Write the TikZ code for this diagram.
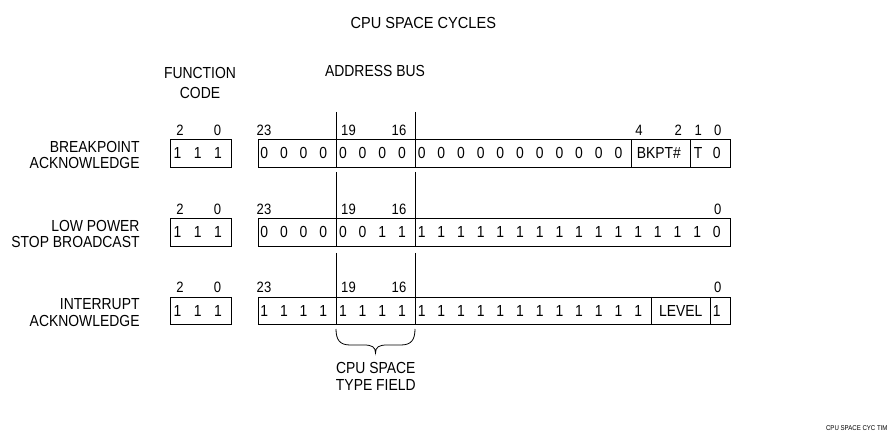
\documentclass[tikz,border=0pt]{standalone}
\usepackage{fontspec}
\setmainfont{Liberation Sans}[FakeStretch=0.87]
\newfontfamily\ttlfont{Liberation Sans}[FakeStretch=0.91]
\begin{document}
\begin{tikzpicture}[x=1pt,y=-1pt,
  line width=0.9pt,
  txt/.style={inner sep=0pt, font=\fontsize{16}{17}\selectfont},
  rowlbl/.style={txt, align=right, anchor=east, font=\fontsize{16}{16.3}\selectfont},
  bitnum/.style={inner sep=0pt, anchor=base, font=\fontsize{15}{15}\selectfont},
  digit/.style={txt, anchor=base},
  regbox/.style={draw, inner sep=0pt, minimum height=27.5pt, anchor=north west},
  fcbox/.style={regbox, minimum width=61pt},
  addrbox/.style={regbox, minimum width=472.3pt}
]
\useasboundingbox (0,0) rectangle (891,435);

% titles
\node[inner sep=0pt, font=\ttlfont\fontsize{16}{17}\selectfont] (title) at (423.3,22.5) {CPU SPACE CYCLES};
\node[txt, align=center, font=\fontsize{16}{20}\selectfont] (fchead) at (200,82.5) {FUNCTION\\CODE};
\node[txt] (abhead) at (375,70.5) {ADDRESS BUS};

% rows: top y values
\foreach \r/\top/\lineA/\lbl in {1/139.5/112/{BREAKPOINT\\ACKNOWLEDGE},
                                 2/218.3/172/{LOW POWER\\STOP BROADCAST},
                                 3/297/253/{INTERRUPT\\ACKNOWLEDGE}} {
  \node[rowlbl] (lbl\r) at (140,\top+15.5) {\lbl};
  \node[fcbox] (fc\r) at (170,\top) {};
  \node[addrbox] (ab\r) at (257.7,\top) {};
  % function code digits and bit numbers
  \foreach \x in {177.5,197.8,218} \node[digit] at (\x,\top+19.3) {1};
  \node[bitnum] (fcb2\r) at (180,\top-4) {2};
  \node[bitnum] (fcb0\r) at (217.5,\top-4) {0};
  % type field dividers with extensions
  \draw (336,\lineA) -- (336,\top+27.5);
  \draw (415,\lineA) -- (415,\top+27.5);
  \node[bitnum] (b23\r) at (264,\top-4) {23};
  \node[bitnum] (b19\r) at (348.5,\top-4) {19};
  \node[bitnum] (b16\r) at (399,\top-4) {16};
}

% helper: x of bit digit
\def\bx#1{257.7+(23-#1)*19.68+6.5}

% Row 1
\foreach \b in {23,...,5} \node[digit] at ({\bx{\b}},139.5+19.3) {0};
\draw (631.6,139.5) -- (631.6,167);
\draw (690.7,139.5) -- (690.7,167);
\node[digit, anchor=base west] (bkpt) at (636.3,139.5+19.3) {BKPT\#};
\node[digit] (tbit) at ({\bx{1}+1},139.5+19.3) {T};
\node[digit] at ({\bx{0}},139.5+19.3) {0};
\node[bitnum] at (639,135.5) {4};
\node[bitnum] at (678.3,135.5) {2};
\node[bitnum] at (698.3,135.5) {1};
\node[bitnum] at (717.7,135.5) {0};

% Row 2
\foreach \b/\v in {23/0,22/0,21/0,20/0,19/0,18/0,17/1,16/1,15/1,14/1,13/1,12/1,11/1,10/1,9/1,8/1,7/1,6/1,5/1,4/1,3/1,2/1,1/1,0/0}
  \node[digit] at ({\bx{\b}},218.3+19.3) {\v};
\node[bitnum] at (717.7,214.3) {0};

% Row 3
\foreach \b in {23,...,4} \node[digit] at ({\bx{\b}},297+19.3) {1};
\draw (651.3,297) -- (651.3,324.5);
\draw (710.3,297) -- (710.3,324.5);
\node[digit] (level) at (680.8,297+19.3) {LEVEL};
\node[digit] at ({\bx{0}},297+19.3) {1};
\node[bitnum] at (717.7,293) {0};

% brace
\coordinate (brL) at (336,329);
\coordinate (brR) at (415,329);
\coordinate (brT) at (375.5,353);
\draw[line width=0.8pt] (brL) .. controls (336,340) and (340,345) .. (350,345)
  -- (364,345) .. controls (372,345) and (375.5,347) .. (brT)
  .. controls (375.5,347) and (379,345) .. (387,345)
  -- (401,345) .. controls (411,345) and (415,340) .. (brR);
\node[txt, align=center, font=\fontsize{16}{17}\selectfont] (typefield) at (375.8,376) {CPU SPACE\\TYPE FIELD};

% footer
\node[inner sep=0pt, anchor=east, font=\fontsize{7}{7}\selectfont] (foot) at (888,428) {CPU SPACE CYC TIM};
\end{tikzpicture}
\end{document}
